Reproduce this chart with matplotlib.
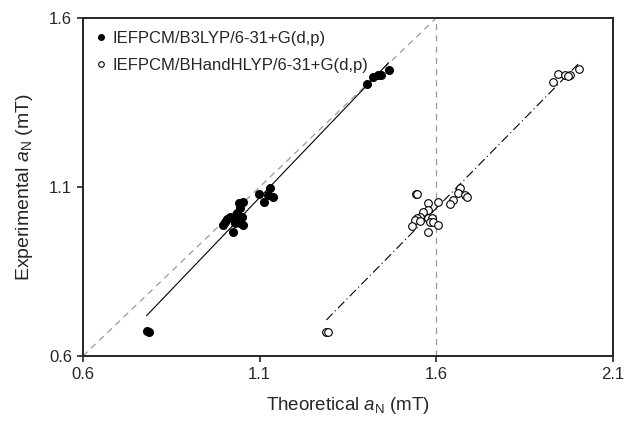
import numpy as np
import matplotlib
matplotlib.use("Agg")
import matplotlib.pyplot as plt
from matplotlib.lines import Line2D

plt.rcParams['font.family'] = ['Liberation Sans', 'DejaVu Sans']
plt.rcParams['mathtext.fontset'] = 'custom'
plt.rcParams['mathtext.rm'] = 'Liberation Sans'
plt.rcParams['mathtext.it'] = 'Liberation Sans:italic'

# B3LYP (filled)
b3_theo = [0.780, 0.787,
           1.129, 1.099, 1.124, 1.139, 1.113, 1.054, 1.042, 1.044, 1.035,
           1.049, 1.016, 1.007, 1.002, 0.997, 1.030, 1.044, 1.054, 1.025, 1.040,
           1.405, 1.420, 1.435, 1.445, 1.465]
b3_exp = [0.673, 0.672,
          1.096, 1.079, 1.076, 1.070, 1.057, 1.057, 1.054, 1.037, 1.024,
          1.012, 1.012, 1.004, 0.997, 0.988, 0.993, 0.993, 0.988, 0.968, 1.002,
          1.405, 1.425, 1.430, 1.430, 1.445]

# BHandHLYP (open)
bh_theo = [1.289, 1.293,
           1.543, 1.546, 1.667, 1.662, 1.681, 1.686, 1.648, 1.639, 1.606,
           1.577, 1.577, 1.563, 1.554, 1.545, 1.540, 1.554, 1.577, 1.587,
           1.582, 1.592, 1.530, 1.606, 1.577,
           1.931, 1.945, 1.964, 1.978, 1.974, 2.005]
bh_exp = [0.672, 0.670,
          1.078, 1.079, 1.096, 1.081, 1.076, 1.071, 1.062, 1.049, 1.057,
          1.052, 1.032, 1.025, 1.012, 1.007, 1.002, 0.999, 1.007, 1.009,
          0.997, 0.996, 0.986, 0.988, 0.966,
          1.412, 1.434, 1.431, 1.431, 1.428, 1.449]

ticks_x = [0.6, 1.1, 1.6, 2.1]
ticks_y = [0.6, 1.1, 1.6]

fig = plt.figure(figsize=(6.26, 4.23), dpi=100)
ax = fig.add_axes([0.1326, 0.1584, 0.8464, 0.799])

# reference lines
ax.plot([0.6, 1.6], [0.6, 1.6], color='#9a9a9a', lw=0.9, ls=(0, (5, 4)), zorder=1)
ax.axvline(1.6, color='#9a9a9a', lw=0.9, ls=(0, (5, 4)), zorder=1)

# linear fits
x1 = np.array(b3_theo); y1 = np.array(b3_exp)
p1 = np.polyfit(x1, y1, 1)
xx1 = np.array([x1.min(), x1.max()])
ax.plot(xx1, np.polyval(p1, xx1), color='black', lw=0.8, zorder=2)

x2 = np.array(bh_theo); y2 = np.array(bh_exp)
p2 = np.polyfit(x2, y2, 1)
xx2 = np.array([x2.min(), x2.max()])
ax.plot(xx2, np.polyval(p2, xx2), color='black', lw=0.8,
        ls=(0, (8, 3, 1, 3)), zorder=2)

ax.plot(b3_theo, b3_exp, 'o', ms=5.5, color='black', mec='black', zorder=3)
ax.plot(bh_theo, bh_exp, 'o', ms=5.5, mfc='white', mec='black', mew=0.8, zorder=3)

ax.set_xlim(0.6, 2.1)
ax.set_ylim(0.6, 1.6)
ax.set_xticks(ticks_x)
ax.set_yticks(ticks_y)
ax.set_xticklabels([f'{t:.1f}' for t in ticks_x])
ax.set_yticklabels([f'{t:.1f}' for t in ticks_y])
ax.tick_params(direction='out', length=4, width=1.2, labelsize=12,
               color='#262626', labelcolor='#262626', pad=4)
for s in ax.spines.values():
    s.set_linewidth(1.4)
    s.set_color('#262626')

ax.set_xlabel(r'Theoretical $a_{\mathrm{N}}$ (mT)', fontsize=13.5, labelpad=9,
              color='#262626')
ax.set_ylabel(r'Experimental $a_{\mathrm{N}}$ (mT)', fontsize=14, labelpad=10,
              color='#262626')

handles = [
    Line2D([], [], marker='o', ls='none', ms=4, color='black'),
    Line2D([], [], marker='o', ls='none', ms=4, mfc='white', mec='black', mew=0.8),
]
ax.legend(handles, ['IEFPCM/B3LYP/6-31+G(d,p)', 'IEFPCM/BHandHLYP/6-31+G(d,p)'],
          loc='upper left', frameon=False, fontsize=12, handlelength=0.6,
          handletextpad=0.4, labelspacing=0.75, borderaxespad=0.35,
          bbox_to_anchor=(0.0, 1.0), labelcolor='#262626')

fig.savefig('out.png', dpi=100)
